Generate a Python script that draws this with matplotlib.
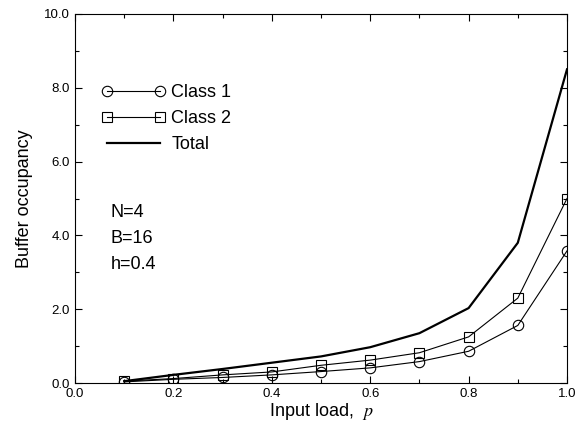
import matplotlib
matplotlib.use("Agg")
import matplotlib.pyplot as plt
from matplotlib.ticker import MultipleLocator

plt.rcParams['font.family'] = ['Liberation Sans', 'DejaVu Sans']
plt.rcParams['mathtext.fontset'] = 'stix'

load = [0.1, 0.2, 0.3, 0.4, 0.5, 0.6, 0.7, 0.8, 0.9, 1.0]
class1 = [0.03, 0.10, 0.15, 0.22, 0.31, 0.41, 0.58, 0.86, 1.56, 3.58]
class2 = [0.05, 0.12, 0.22, 0.30, 0.48, 0.62, 0.82, 1.25, 2.30, 5.00]
total = [0.05, 0.22, 0.38, 0.55, 0.72, 0.97, 1.35, 2.03, 3.80, 8.50]
params = ["N=4", "B=16", "h=0.4"]

fig = plt.figure(figsize=(5.77, 4.22), dpi=100)
ax = fig.add_axes([75/577, 1 - 383/422, 492/577, 369/422])

ax.plot(load, class1, color='black', lw=0.8, marker='o', ms=7.5,
        mfc='none', mec='black', mew=0.8, label='Class 1')
ax.plot(load, class2, color='black', lw=0.8, marker='s', ms=6.5,
        mfc='none', mec='black', mew=0.8, label='Class 2')
ax.plot(load, total, color='black', lw=1.6, label='Total')

ax.set_xlim(0, 1.0)
ax.set_ylim(0, 10.0)
ax.xaxis.set_major_locator(MultipleLocator(0.2))
ax.xaxis.set_minor_locator(MultipleLocator(0.1))
ax.yaxis.set_major_locator(MultipleLocator(2.0))
ax.yaxis.set_minor_locator(MultipleLocator(1.0))
ax.xaxis.set_major_formatter(plt.FormatStrFormatter('%.1f'))
ax.yaxis.set_major_formatter(plt.FormatStrFormatter('%.1f'))
ax.tick_params(which='both', direction='in', top=True, right=True,
               labelsize=9.5, width=0.8)
ax.tick_params(which='major', length=5)
ax.tick_params(which='minor', length=3)
for s in ax.spines.values():
    s.set_linewidth(0.8)

ax.set_xlabel('Input load,  $p$', fontsize=13, labelpad=1)
ax.set_ylabel('Buffer occupancy', fontsize=13, labelpad=8)

ax.legend(loc='upper left', bbox_to_anchor=(0.04, 0.83), frameon=False,
          fontsize=13, numpoints=2, handlelength=3.5, handletextpad=0.35,
          labelspacing=0.5, borderaxespad=0)

for i, t in enumerate(params):
    ax.text(0.072, 4.62 - i * 0.7, t, fontsize=13, va='center')

fig.savefig('out.png', dpi=100)
